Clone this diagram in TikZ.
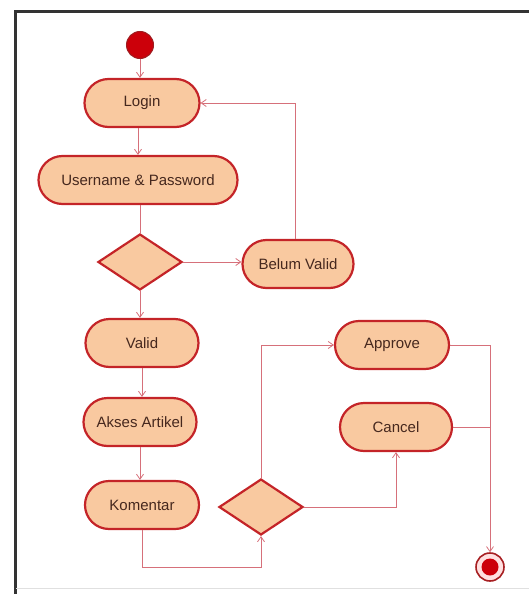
\documentclass[tikz,border=0pt]{standalone}
\usepackage{fontspec}
\setmainfont{Liberation Sans}
\usetikzlibrary{arrows.meta,shapes.geometric,shapes.misc}
\definecolor{actfill}{RGB}{249,201,160}
\definecolor{actedge}{RGB}{196,36,40}
\definecolor{flow}{RGB}{214,112,122}
\definecolor{txt}{RGB}{70,40,30}
\definecolor{dotred}{RGB}{204,0,10}
\tikzset{
  x=1pt, y=-1pt,
  activity/.style={rounded rectangle, draw=actedge, fill=actfill, line width=2.2pt,
    minimum height=48pt, font=\fontsize{15}{17}\selectfont, text=txt, inner xsep=2pt},
  choice/.style={diamond, draw=actedge, fill=actfill, line width=2.2pt, aspect=1.5,
    minimum width=84pt, minimum height=56pt, inner sep=0pt},
  flowline/.style={draw=flow, line width=0.8pt, -{Straight Barb[length=5pt,width=7pt]}},
  flowplain/.style={draw=flow, line width=0.8pt}
}
\begin{document}
\begin{tikzpicture}
\useasboundingbox (0,0) rectangle (529,594);
% frame
\draw[line width=3pt, draw=black!80] (15,594) -- (15,12) -- (529,12);
\draw[line width=0.8pt, draw=black!12] (16,588) -- (529,588);

% start / end
\node[circle, fill=dotred, draw=actedge!80!black, line width=1pt, minimum size=27pt, inner sep=0pt] (start) at (140,45) {};
\node[circle, fill=red!12, draw=actedge!85!black, line width=1.6pt, minimum size=28pt, inner sep=0pt] (end) at (490,567) {};
\node[circle, fill=dotred, minimum size=17pt, inner sep=0pt] (endin) at (490,567) {};

% activities
\node[activity, minimum width=119pt] (login) at (142,103) {Login};
\node[activity, minimum width=203pt] (user) at (138,180) {Username \& Password};
\node[choice] (d1) at (140,262) {};
\node[activity, minimum width=115pt] (belum) at (298,264) {Belum Valid};
\node[activity, minimum width=117pt] (valid) at (142,343) {Valid};
\node[activity, minimum width=117pt] (akses) at (140,422) {Akses Artikel};
\node[activity, minimum width=118pt] (koment) at (142,505) {Komentar};
\node[choice] (d2) at (261,507) {};
\node[activity, minimum width=118pt] (approve) at (392,345) {Approve};
\node[activity, minimum width=116pt] (cancel) at (396,427) {Cancel};

% flows
\draw[flowline] (start) -- (start |- login.north);
\draw[flowline] (login.south -| 138,0) -- (138,0 |- user.north);
\draw[flowplain] (user.south -| d1.north) -- (d1.north);
\draw[flowline] (d1.east) -- (d1.east -| belum.west);
\draw[flowline] (belum.north -| 295,0) |- (login.east);
\draw[flowline] (d1.south) -- (d1.south |- valid.north);
\draw[flowline] (valid.south) -- (valid.south |- akses.north);
\draw[flowline] (akses.south) -- (akses.south |- koment.north);
\coordinate (kb) at (142,567);
\draw[flowline] (koment.south) -- (kb) -| (d2.south);
\draw[flowline] (d2.north) |- (approve.west);
\draw[flowline] (d2.east) -| (cancel.south);
\coordinate (join) at (491,427);
\draw[flowplain] (cancel.east) -- (join);
\draw[flowline] (approve.east) -| (end.north);
\end{tikzpicture}
\end{document}
